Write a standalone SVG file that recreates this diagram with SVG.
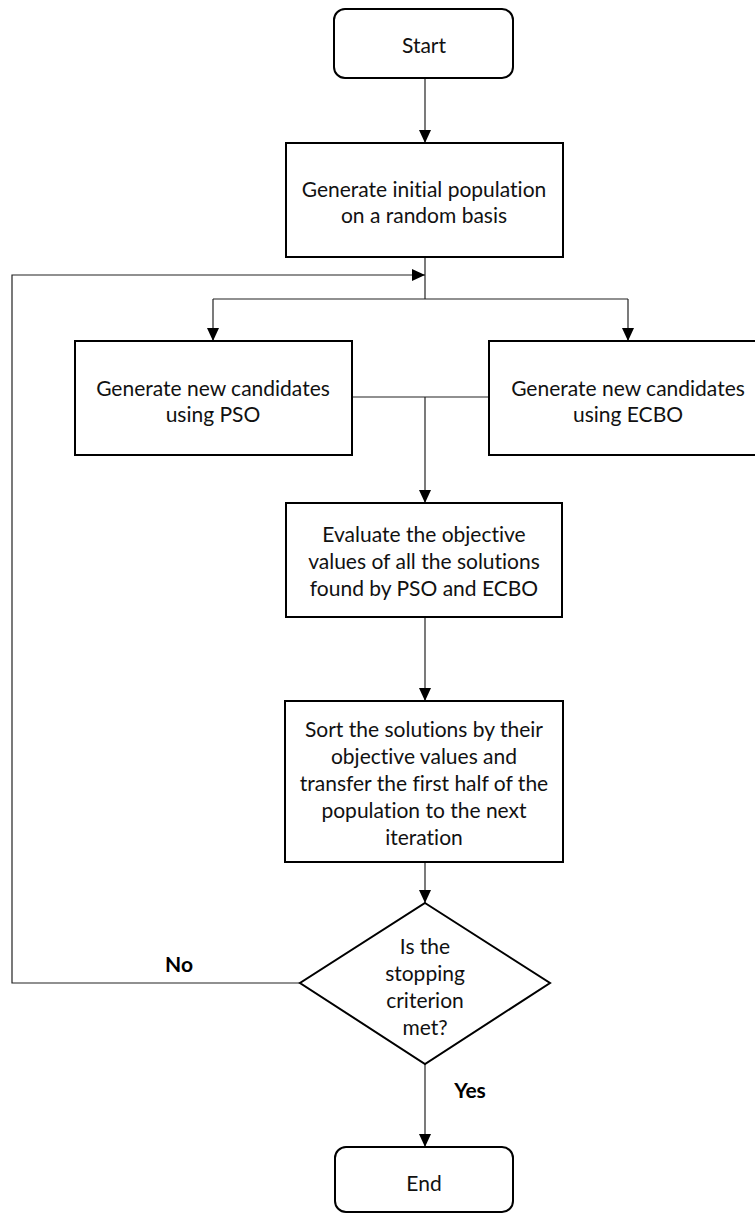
<svg xmlns="http://www.w3.org/2000/svg" width="755" height="1214" viewBox="0 0 755 1214">
<style>
.box{fill:#fff;stroke:#000;stroke-width:2}
.t{font-family:Lato,"Open Sans",sans-serif;font-size:21px;fill:#111;text-anchor:middle;dominant-baseline:central;font-variant-ligatures:none}
.b{font-family:Lato,"Open Sans",sans-serif;font-size:21px;font-weight:bold;fill:#000;text-anchor:middle;dominant-baseline:central}
.c{fill:none;stroke:#222;stroke-width:1.2}
</style>
<defs>
<marker id="ah" markerUnits="userSpaceOnUse" markerWidth="14" markerHeight="14" viewBox="0 0 14 14" refX="13" refY="7" orient="auto">
<path d="M0,1 L13,7 L0,13 Z" fill="#000"/>
</marker>
</defs>
<rect width="755" height="1214" fill="#fff"/>
<g id="connectors">
<path class="c" d="M425,78 V143" marker-end="url(#ah)"/>
<path class="c" d="M425,257 V299"/>
<path class="c" d="M213,299 H628"/>
<path class="c" d="M213,299 V341" marker-end="url(#ah)"/>
<path class="c" d="M628,299 V341" marker-end="url(#ah)"/>
<path class="c" d="M352,397 H489"/>
<path class="c" d="M425,397 V503" marker-end="url(#ah)"/>
<path class="c" d="M425,617 V701" marker-end="url(#ah)"/>
<path class="c" d="M425,862 V903" marker-end="url(#ah)"/>
<path class="c" d="M425,1064 V1147" marker-end="url(#ah)"/>
<path class="c" d="M300,983 H12 V275 H425" marker-end="url(#ah)"/>
<text class="b" x="179" y="963">No</text>
<text class="b" x="470" y="1089">Yes</text>
</g>
<g id="start">
<rect class="box" x="334" y="9" width="179" height="69" rx="11"/>
<text class="t" x="424" y="44">Start</text>
</g>
<g id="init">
<rect class="box" x="286" y="143" width="277" height="114"/>
<text class="t" x="424" y="188">Generate initial population</text>
<text class="t" x="424" y="214">on a random basis</text>
</g>
<g id="pso">
<rect class="box" x="75" y="341" width="277" height="114"/>
<text class="t" x="213" y="387">Generate new candidates</text>
<text class="t" x="213" y="413">using PSO</text>
</g>
<g id="ecbo">
<rect class="box" x="489" y="341" width="278" height="114"/>
<text class="t" x="628" y="387">Generate new candidates</text>
<text class="t" x="628" y="413">using ECBO</text>
</g>
<g id="evaluate">
<rect class="box" x="286" y="503" width="276" height="114"/>
<text class="t" x="424" y="533">Evaluate the objective</text>
<text class="t" x="424" y="560">values of all the solutions</text>
<text class="t" x="424" y="587">found by PSO and ECBO</text>
</g>
<g id="sort">
<rect class="box" x="285" y="701" width="278" height="161"/>
<text class="t" x="424" y="728">Sort the solutions by their</text>
<text class="t" x="424" y="755">objective values and</text>
<text class="t" x="424" y="782">transfer the first half of the</text>
<text class="t" x="424" y="809">population to the next</text>
<text class="t" x="424" y="836">iteration</text>
</g>
<g id="decision">
<polygon class="box" points="425,903 550,983 425,1064 300,983"/>
<text class="t" x="425" y="945">Is the</text>
<text class="t" x="425" y="972">stopping</text>
<text class="t" x="425" y="999">criterion</text>
<text class="t" x="425" y="1026">met?</text>
</g>
<g id="end">
<rect class="box" x="335" y="1147" width="178" height="65" rx="11"/>
<text class="t" x="424" y="1182">End</text>
</g>
</svg>
